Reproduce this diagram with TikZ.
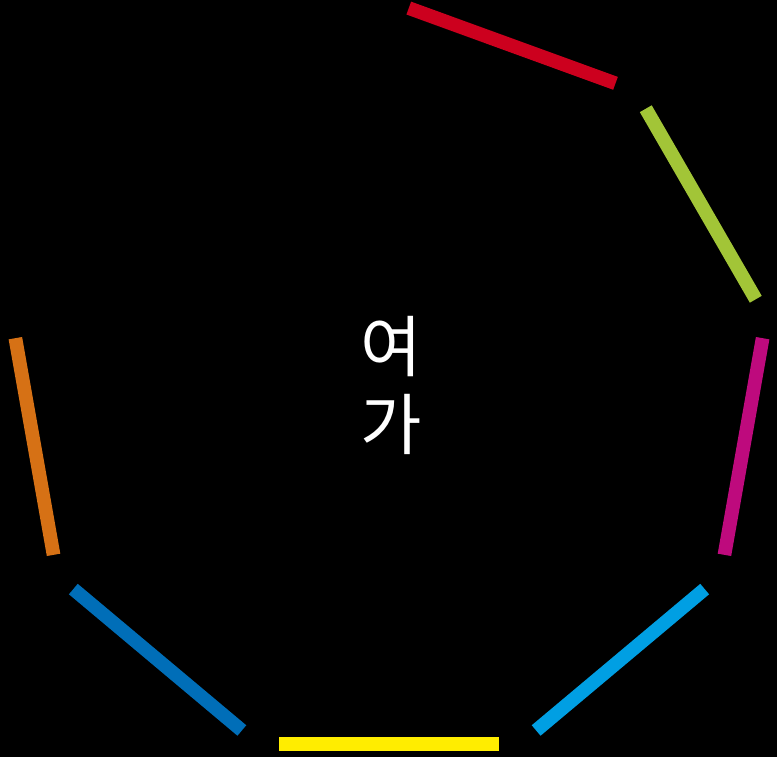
\documentclass[tikz,border=0pt]{standalone}
\usepackage{xcolor}
\usepackage{fontspec}
\usepackage{tikz}
\newfontfamily\kofont{Noto Sans CJK KR}
\definecolor{RingRed}{HTML}{CC001E}
\definecolor{RingGreen}{HTML}{A2C537}
\definecolor{RingMagenta}{HTML}{BE0A7D}
\definecolor{RingCyan}{HTML}{009FE3}
\definecolor{RingYellow}{HTML}{FFED00}
\definecolor{RingBlue}{HTML}{006EB8}
\definecolor{RingOrange}{HTML}{D67115}
\tikzset{ringside/.style={line width=0.137cm}}

\begin{document}
\begin{tikzpicture}[x=1cm,y=1cm]
\path[use as bounding box] (0,0) rectangle (7.77,7.56);
\fill[black] (-0.1,-0.1) rectangle (7.87,7.66);
\coordinate (c) at (3.89,3.72);
% seven of the nine sides, shortened
\foreach \ang/\col in {-90/RingYellow,-50/RingCyan,-10/RingMagenta,30/RingGreen,70/RingRed,190/RingOrange,230/RingBlue}
  \draw[ringside,\col,shift={(c)},rotate=\ang] (3.60,-1.10) -- (3.60,1.10);
\node[text=white,align=center,font=\kofont\fontsize{19}{22.2}\selectfont] (word) at (3.91,3.71) {여\\가};
\end{tikzpicture}
\end{document}
